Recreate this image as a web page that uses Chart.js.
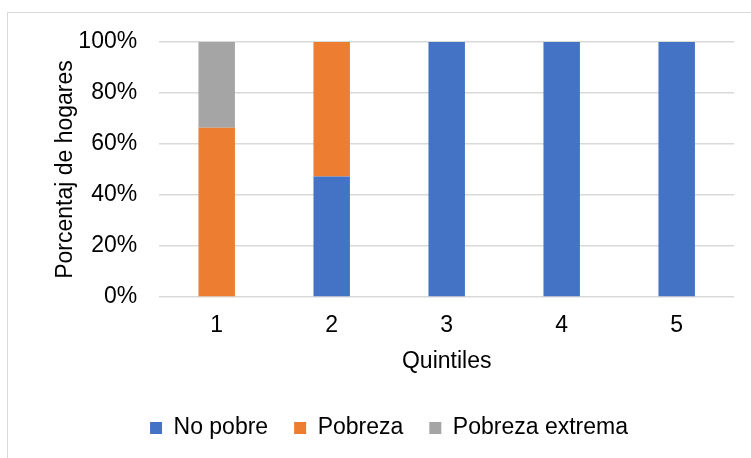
<!DOCTYPE html>
<html lang="es">
<head>
<meta charset="utf-8">
<title>Porcentaje de hogares por quintiles</title>
<script src="https://cdn.jsdelivr.net/npm/chart.js@4/dist/chart.umd.min.js"></script>
<style>
  html, body { margin: 0; padding: 0; background: #ffffff; overflow: hidden; }
  #wrap { position: relative; width: 751px; height: 458px; }
  #frame {
    position: absolute; left: 7px; top: 12px; width: 800px; height: 500px;
    border: 1px solid #d9d9d9; box-sizing: border-box;
  }
  canvas { position: absolute; left: 0; top: 0; }
</style>
</head>
<body>
<div id="wrap">
  <div id="frame"></div>
  <canvas id="chart" width="751" height="458"></canvas>
</div>
<script>
// Categories and shares of households (%) per poverty status
const quintiles = ['1', '2', '3', '4', '5'];
const noPobre = [0, 47.3, 100, 100, 100];
const pobreza = [66.4, 52.7, 0, 0, 0];
const pobrezaExtrema = [33.6, 0, 0, 0, 0];
const yTickValues = [0, 20, 40, 60, 80, 100];

const FONT = 'Liberation Sans, Arial, sans-serif';
const TEXT = '#000000';
const GRID = '#d9d9d9';

new Chart(document.getElementById('chart'), {
  type: 'bar',
  data: {
    labels: quintiles,
    datasets: [
      { label: 'No pobre', data: noPobre, backgroundColor: '#4472C4' },
      { label: 'Pobreza', data: pobreza, backgroundColor: '#ED7D31' },
      { label: 'Pobreza extrema', data: pobrezaExtrema, backgroundColor: '#A5A5A5' }
    ]
  },
  options: {
    responsive: false,
    animation: false,
    devicePixelRatio: 1,
    layout: { padding: { top: 42, right: 16.8, bottom: 8.5, left: 43.8 } },
    datasets: {
      bar: { categoryPercentage: 1, barPercentage: 0.317, borderWidth: 0 }
    },
    plugins: {
      tooltip: { enabled: false },
      legend: {
        position: 'bottom',
        labels: {
          boxWidth: 12,
          boxHeight: 12,
          padding: 26,
          color: TEXT,
          font: { family: FONT, size: 23 }
        }
      }
    },
    scales: {
      x: {
        stacked: true,
        grid: { display: false, drawTicks: false },
        border: { display: false },
        ticks: { color: TEXT, padding: 15, font: { family: FONT, size: 23 } },
        title: {
          display: true,
          text: 'Quintiles',
          color: TEXT,
          font: { family: FONT, size: 23 },
          padding: { top: 0, bottom: 14.7 }
        },
        afterFit: (scale) => { scale.height = 93.5; }
      },
      y: {
        stacked: true,
        min: 0,
        max: 100,
        afterBuildTicks: (scale) => { scale.ticks = yTickValues.map(v => ({ value: v })); },
        grid: { color: GRID, lineWidth: 1.5, drawTicks: false },
        border: { display: false },
        ticks: {
          color: TEXT,
          padding: 22,
          font: { family: FONT, size: 23 },
          callback: (v) => v + '%'
        },
        title: {
          display: true,
          text: 'Porcentaj de hogares',
          color: TEXT,
          font: { family: FONT, size: 23 },
          padding: { top: 8.4, bottom: 0 }
        },
        afterFit: (scale) => { scale.width = 115.4; }
      }
    }
  }
});
</script>
</body>
</html>
